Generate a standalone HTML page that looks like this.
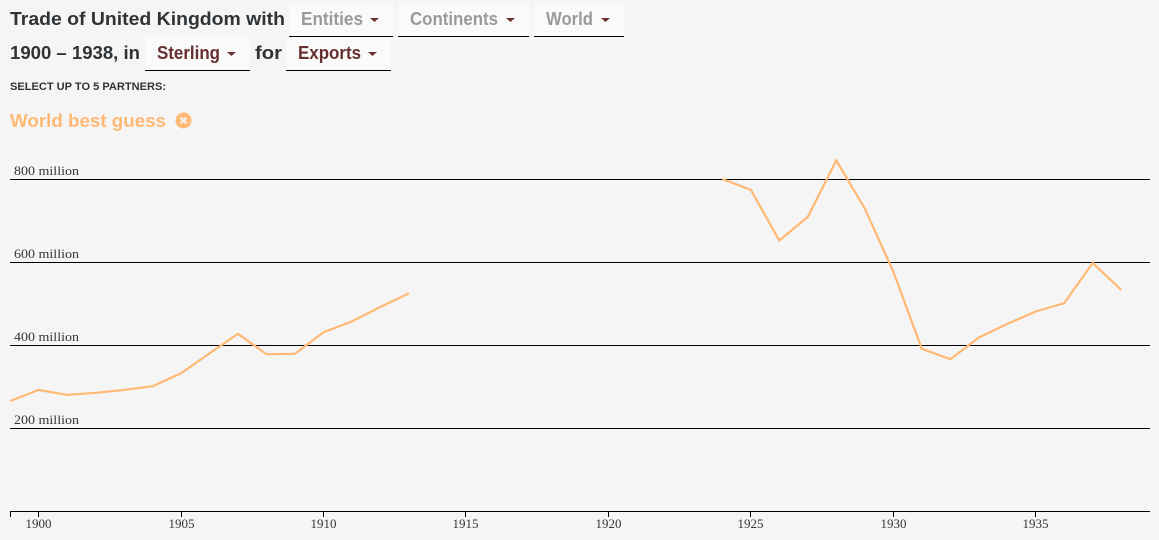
<!DOCTYPE html>
<html lang="en">
<head>
<meta charset="utf-8">
<title>Trade of United Kingdom</title>
<style>
html,body{margin:0;padding:0;width:1159px;height:540px;background:#f5f5f5;overflow:hidden}
svg{display:block;position:absolute;left:0;top:0}
.h{font-family:"Liberation Sans",sans-serif;font-weight:700;font-size:18px}
.t{fill:#2f3336}
.off{fill:#9a9a9a}
.on{fill:#672f2f}
.box{fill:#fafafa}
.ser{font-family:"Liberation Serif",serif;font-size:13px;fill:#33363a}
</style>
</head>
<body>
<svg id="chart" width="1159" height="540" viewBox="0 0 1159 540" xmlns="http://www.w3.org/2000/svg">
  <g>
    <text class="h t" x="10" y="25" textLength="275" lengthAdjust="spacingAndGlyphs">Trade of United Kingdom with</text>
  </g>
  <g>
    <rect class="box" x="289" y="3" width="104" height="33"/><rect x="289" y="36" width="104" height="1" fill="#000"/>
    <text class="h off" x="301" y="25" textLength="62" lengthAdjust="spacingAndGlyphs">Entities</text>
    <path d="M370 18h9l-4.500 4z" fill="#6b3030"/>
  </g>
  <g>
    <rect class="box" x="398" y="3" width="131" height="33"/><rect x="398" y="36" width="131" height="1" fill="#000"/>
    <text class="h off" x="410" y="25" textLength="88" lengthAdjust="spacingAndGlyphs">Continents</text>
    <path d="M506 18h9l-4.500 4z" fill="#6b3030"/>
  </g>
  <g>
    <rect class="box" x="534" y="3" width="90" height="33"/><rect x="534" y="36" width="90" height="1" fill="#000"/>
    <text class="h off" x="546" y="25" textLength="47" lengthAdjust="spacingAndGlyphs">World</text>
    <path d="M601 18h9l-4.500 4z" fill="#6b3030"/>
  </g>
  <text class="h t" x="10" y="59" textLength="130" lengthAdjust="spacingAndGlyphs">1900 – 1938, in</text>
  <g>
    <rect class="box" x="145" y="37" width="105" height="33"/><rect x="145" y="70" width="105" height="1" fill="#000"/>
    <text class="h on" x="157" y="59" textLength="63" lengthAdjust="spacingAndGlyphs">Sterling</text>
    <path d="M227 52h9l-4.500 4z" fill="#6b3030"/>
  </g>
  <text class="h t" x="255" y="59" textLength="27" lengthAdjust="spacingAndGlyphs">for</text>
  <g>
    <rect class="box" x="286" y="37" width="105" height="33"/><rect x="286" y="70" width="105" height="1" fill="#000"/>
    <text class="h on" x="298" y="59" textLength="63" lengthAdjust="spacingAndGlyphs">Exports</text>
    <path d="M368 52h9l-4.500 4z" fill="#6b3030"/>
  </g>
  <text x="10" y="90" textLength="156" lengthAdjust="spacingAndGlyphs" font-family="'Liberation Sans',sans-serif" font-weight="700" font-size="11" fill="#2f3336">SELECT UP TO 5 PARTNERS:</text>
  <text class="h" x="10" y="127" textLength="156" lengthAdjust="spacingAndGlyphs" fill="#ffb974">World best guess</text>
  <g>
    <circle cx="183.500" cy="120.500" r="8" fill="#ffb974"/>
    <path d="M180.500 117.500l6 6m0-6l-6 6" stroke="#f5f5f5" stroke-width="2.200" fill="none"/>
  </g>
  <g id="grid"></g>
  <g id="xaxis"></g>
  <g id="series"></g>
</svg>
<script>
const years = [1899,1900,1901,1902,1903,1904,1905,1906,1907,1908,1909,1910,1911,1912,1913,1914,1915,1916,1917,1918,1919,1920,1921,1922,1923,1924,1925,1926,1927,1928,1929,1930,1931,1932,1933,1934,1935,1936,1937,1938];
const exportsMillions = [266,293,281,286,293,302,333,381,428,379,380,432,458,493,526,null,null,null,null,null,null,null,null,null,null,801,775,653,710,846,730,578,392,367,419,452,482,502,599,534];
const yTicks = [200,400,600,800];
const yTickLabels = ['200 million','400 million','600 million','800 million'];
const xTicks = [1900,1905,1910,1915,1920,1925,1930,1935];

const NS = 'http://www.w3.org/2000/svg';
function xScale(year){ return 38.6 + (year - 1900) * 28.49; }
function yScale(v){ return 511.5 - v * 0.415; }
function make(tag, attrs, parent){
  const el = document.createElementNS(NS, tag);
  for (const k in attrs) el.setAttribute(k, attrs[k]);
  parent.appendChild(el);
  return el;
}

const grid = document.getElementById('grid');
yTicks.forEach(function(v, i){
  const y = Math.round(yScale(v) - 0.5) + 0.5;
  const line = make('line', {x1:10, x2:1150, y1:y, y2:y, stroke:'#000', 'stroke-width':1}, grid);
  
  
  const label = make('text', {x:14, y:y - 4.5, class:'ser', textLength:65, lengthAdjust:'spacingAndGlyphs'}, grid);
  label.textContent = yTickLabels[i];
  
  
});

const xaxis = document.getElementById('xaxis');
const domain = make('path', {d:'M10.500 517V511.500H1150', fill:'none', stroke:'#000', 'stroke-width':1}, xaxis);


xTicks.forEach(function(yr){
  const x = Math.round(xScale(yr) - 0.5) + 0.5;
  const tick = make('line', {x1:x, x2:x, y1:511, y2:517, stroke:'#000', 'stroke-width':1}, xaxis);
  
  
  const label = make('text', {x:x, y:528, class:'ser', 'text-anchor':'middle', 'font-size':13}, xaxis);
  label.textContent = yr;
  
  
});

const series = document.getElementById('series');
let d = '';
let pen = false;
years.forEach(function(yr, i){
  const v = exportsMillions[i];
  if (v === null) { pen = false; return; }
  d += (pen ? 'L' : 'M') + xScale(yr).toFixed(1) + ' ' + yScale(v).toFixed(1);
  pen = true;
});
const path = make('path', {d:d, fill:'none', stroke:'#ffb974', 'stroke-width':2.2}, series);


</script>
</body>
</html>
